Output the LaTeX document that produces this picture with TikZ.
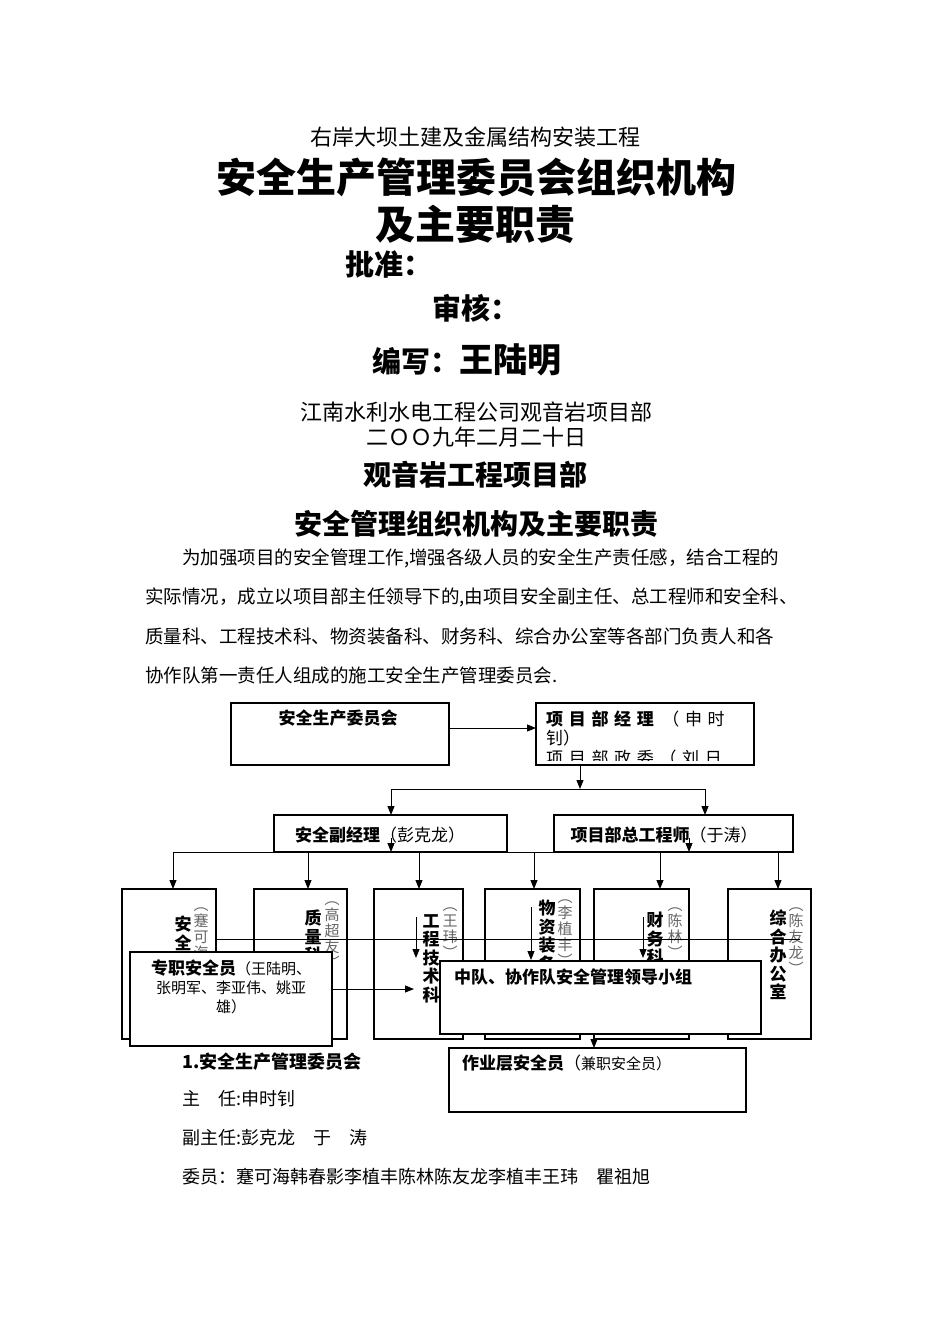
\documentclass[tikz,border=0pt]{standalone}
\usepackage{fontspec}
\setmainfont{Noto Sans CJK SC}
\usetikzlibrary{arrows.meta}
\newcommand\fs[1]{\fontsize{#1}{#1}\selectfont}
\begin{document}
\begin{tikzpicture}[x=1pt,y=-1pt,
 bx/.style={draw,line width=1.2pt,fill=white},
 ar/.style={line width=1pt,-{Triangle[length=9pt,width=7pt]}},
 ln/.style={line width=1pt},
 tx/.style={inner sep=0pt,anchor=west},
 vb/.style={inner sep=0pt,anchor=north,align=center,font=\fontsize{17}{18.5}\selectfont\bfseries},
 vg/.style={inner sep=0pt,anchor=north,align=center,font=\fontsize{15}{16}\selectfont,text=black!60}]
\useasboundingbox (0,0) rectangle (950,1344);
% titles
\node[inner sep=0pt] (t1) at (475,137) {\fs{22}右岸大坝土建及金属结构安装工程};
\node[inner sep=0pt] (t2) at (476,177) {\fs{40}\bfseries 安全生产管理委员会组织机构};
\node[inner sep=0pt] (t3) at (475,224) {\fs{40}\bfseries 及主要职责};
\node[tx] (t4) at (345,265) {\fs{29}\bfseries 批准：};
\node[tx] (t5) at (432,308) {\fs{29}\bfseries 审核：};
\node[tx] (t6) at (372,360) {\fs{29}\bfseries 编写：\fs{34}王陆明};
\node[inner sep=0pt] (t7) at (476,412) {\fs{22}江南水利水电工程公司观音岩项目部};
\node[inner sep=0pt] (t8) at (476,437) {\fs{22}二ＯＯ九年二月二十日};
\node[inner sep=0pt] (t9) at (475,475) {\fs{28}\bfseries 观音岩工程项目部};
\node[inner sep=0pt] (t10) at (476,524) {\fs{28}\bfseries 安全管理组织机构及主要职责};
\node[tx] (p1) at (182,558) {\fs{18.5}为加强项目的安全管理工作,增强各级人员的安全生产责任感，结合工程的};
\node[tx] (p2) at (145,597) {\fs{18.5}实际情况，成立以项目部主任领导下的,由项目安全副主任、总工程师和安全科、};
\node[tx] (p3) at (145,636) {\fs{18.5}质量科、工程技术科、物资装备科、财务科、综合办公室等各部门负责人和各};
\node[tx] (p4) at (145,675) {\fs{18.5}协作队第一责任人组成的施工安全生产管理委员会.};
% top boxes
\draw[bx] (231,703) rectangle (449,765);
\node[inner sep=0pt] (A) at (338,718) {\fs{17}\bfseries 安全生产委员会};
\coordinate (Ar) at (449,728);
\draw[bx] (536,703) rectangle (754,765);
\coordinate (Bl) at (536,728);
\node[tx] (B1) at (546,719) {\fs{17}\bfseries 项\,\,目\,\,部\,\,经\,\,理\,\,\,\mdseries（\,\,申\,\,时};
\node[tx] (B2) at (546,738) {\fs{17}钊）};
\begin{scope}
\clip (537,748) rectangle (753,760);
\node[tx] (B3) at (546,758) {\fs{17}项\,\,目\,\,部\,\,政\,\,委\,\,（\,\,刘\,\,日};
\end{scope}
\draw[ar] (Ar) -- (Bl);
\coordinate (Bb) at (580,765);
\coordinate (m1) at (580,789);
\coordinate (h1) at (391,789); \coordinate (h2) at (705,789);
\draw[ln] (h1) -- (h2);
\draw[ar] (Bb) -- (m1);
% second row
\draw[bx] (274,815) rectangle (507,852);
\draw[bx] (554,815) rectangle (793,852);
\node[inner sep=0pt] (C) at (380,835) {\fs{17}\bfseries 安全副经理\mdseries（彭克龙）};
\node[inner sep=0pt] (D) at (664,835) {\fs{17}\bfseries 项目部总工程师\mdseries（于涛）};
\coordinate (c1) at (391,815); \coordinate (d1) at (705,815);
\draw[ar] (h1) -- (c1); \draw[ar] (h2) -- (d1);
\draw[ar] (391,838) -- (391,852);
\draw[ar] (689,838) -- (689,852);
% third row
\draw[ln] (173,852) -- (778,852);
\foreach \x/\l/\r/\n in {173/122/216/k1,308/254/347/k2,419/374/463/k3,534/485/580/k4,660/594/689/k5,778/728/811/k6}{
  \draw[bx] (\l,889) rectangle (\r,1039);
  \draw[ar] (\x,852) -- (\x,889);
}
\node[vb] (n1) at (183,916) {安\\全\\科};
\node[vg] (g1) at (201,908) {︵\\蹇\\可\\海\\︶};
\node[vb] (n2) at (313,910) {质\\量\\科};
\node[vg] (g2) at (332,902) {︵\\高\\超\\友\\︶};
\node[vb] (n3) at (431,914) {工\\程\\技\\术\\科};
\node[vg] (g3) at (450,908) {︵\\王\\玮\\︶};
\node[vb] (n4) at (547,900) {物\\资\\装\\备\\科};
\node[vg] (g4) at (565,900) {︵\\李\\植\\丰\\︶};
\node[vb] (n5) at (655,912) {财\\务\\科};
\node[vg] (g5) at (675,908) {︵\\陈\\林\\︶};
\node[vb] (n6) at (778,910) {综\\合\\办\\公\\室};
\node[vg] (g6) at (796,908) {︵\\陈\\友\\龙\\︶};
\draw[ar] (416,917) -- (416,958);
\draw[ar] (531,907) -- (531,960);
\draw[ar] (643,917) -- (643,958);
\draw[ln] (216,939) -- (800,939);
% overlapping boxes
\draw[bx] (130,952) rectangle (332,1046);
\node[inner sep=0pt,align=center,font=\fontsize{15}{19}\selectfont] (Z) at (231,987) {{\fontsize{17}{19}\selectfont\bfseries 专职安全员}（王陆明、\\张明军、李亚伟、姚亚\\雄）};
\coordinate (Zr) at (332,989);
\coordinate (Zt) at (414,989);
\draw[ar] (Zr) -- (Zt);
\draw[bx] (440,961) rectangle (761,1034);
\node[tx] (Q) at (454,977) {\fs{17}\bfseries 中队、协作队安全管理领导小组};
\draw[bx] (449,1048) rectangle (746,1112);
\node[tx] (W) at (462,1063) {\fs{17}\bfseries 作业层安全员\mdseries（\fs{15}兼职安全员）};
\draw[ar] (594,1034) -- (594,1048);
% text below
\node[tx] (s1) at (182,1062) {\fs{18}\bfseries 1.安全生产管理委员会};
\node[tx] (s2) at (182,1099) {\fs{18}主\quad 任:申时钊};
\node[tx] (s3) at (182,1138) {\fs{18}副主任:彭克龙\quad 于\quad 涛};
\node[tx] (s4) at (182,1177) {\fs{18}委员：蹇可海韩春影李植丰陈林陈友龙李植丰王玮\quad 瞿祖旭};
\end{tikzpicture}
\end{document}
